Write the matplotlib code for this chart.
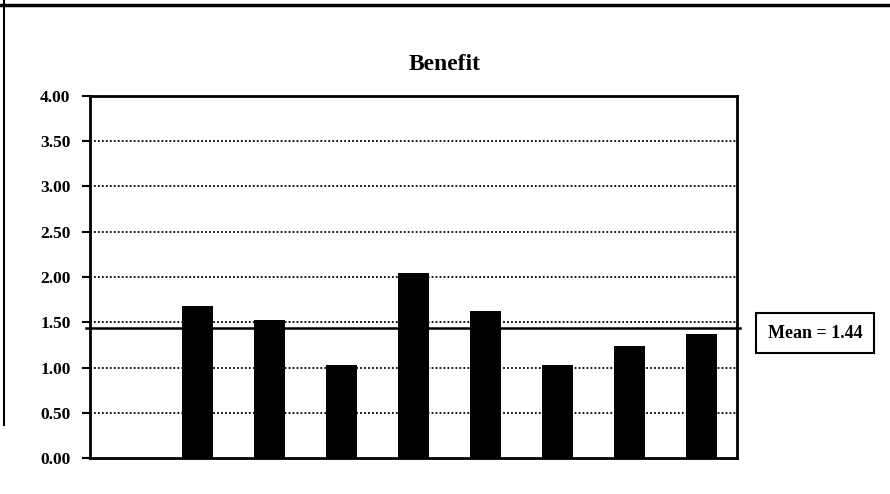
import numpy as np
import matplotlib
matplotlib.use("Agg")
import matplotlib.pyplot as plt
from matplotlib.lines import Line2D

# Benefit scores per group; the first slot has no data
categories = ["0", "1", "2", "3", "4", "5", "6", "7", "8"]
values = [np.nan, 1.68, 1.52, 1.03, 2.04, 1.62, 1.03, 1.24, 1.37]
mean_value = 1.44
y_ticks = [0.0, 0.5, 1.0, 1.5, 2.0, 2.5, 3.0, 3.5, 4.0]
title = "Benefit"

serif = ["Liberation Serif", "DejaVu Serif"]

fig = plt.figure(figsize=(8.9, 4.94), dpi=100)
fig.patch.set_facecolor("white")
ax = fig.add_axes([90 / 890, 1 - 458 / 494, (737 - 90) / 890, (458 - 96) / 494])

x = np.arange(len(categories))
ax.bar(x, values, width=0.43, color="black", zorder=3)

ax.set_xlim(-0.5, len(categories) - 0.5)
ax.set_ylim(0, 4)
ax.set_yticks(y_ticks)
ax.set_yticklabels([f"{t:.2f}" for t in y_ticks], fontfamily=serif,
                   fontweight="bold", fontsize=12.5)
ax.set_xticks([])
ax.tick_params(axis="y", direction="out", length=6, width=1.5, pad=8)

for t in y_ticks[1:-1]:
    ax.axhline(t, color="black", linestyle=(0, (1, 1.2)), linewidth=1.3, zorder=1)

for s in ax.spines.values():
    s.set_linewidth(2)
    s.set_color("black")

# mean line across the plot
ax.plot([-0.006, 1.005], [mean_value, mean_value], transform=ax.get_yaxis_transform(),
        color="black", linewidth=1.8, clip_on=False, zorder=4)

fig.text(815 / 890, 1 - 333 / 494, f"Mean = {mean_value:.2f}", ha="center", va="center",
         fontfamily=serif, fontweight="bold", fontsize=13,
         bbox=dict(boxstyle="square,pad=0.65", facecolor="white", edgecolor="black",
                   linewidth=1.5))

fig.text(445 / 890, 1 - 64 / 494, title, ha="center", va="center",
         fontfamily=serif, fontweight="bold", fontsize=17)

# page frame lines
fig.add_artist(Line2D([0, 1], [1 - 5 / 494, 1 - 5 / 494], color="black", linewidth=2.5,
                      transform=fig.transFigure))
fig.add_artist(Line2D([4 / 890, 4 / 890], [1, 1 - 425 / 494], color="black", linewidth=1.5,
                      transform=fig.transFigure))

fig.savefig("out.png", dpi=100, facecolor="white")
